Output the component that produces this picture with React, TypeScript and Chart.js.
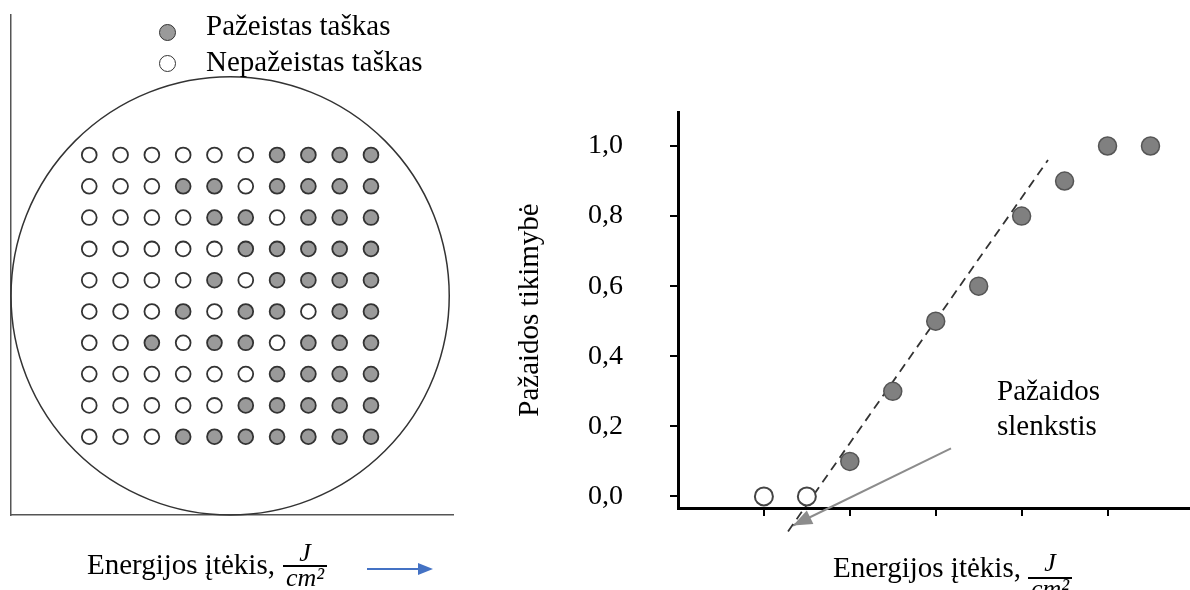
import React, { useEffect, useRef } from "react";
import { Chart, registerables } from "chart.js";

Chart.register(...registerables);

const FONT = "'Liberation Serif', 'Times New Roman', serif";

// ---------- Left panel: 10 x 10 test grid on the sample (1 = damaged) ----------
const gridColumns = [1, 2, 3, 4, 5, 6, 7, 8, 9, 10];
const gridRows = [10, 9, 8, 7, 6, 5, 4, 3, 2, 1]; // y value of each row, top to bottom
const damageGrid = [
  [0, 0, 0, 0, 0, 0, 1, 1, 1, 1],
  [0, 0, 0, 1, 1, 0, 1, 1, 1, 1],
  [0, 0, 0, 0, 1, 1, 0, 1, 1, 1],
  [0, 0, 0, 0, 0, 1, 1, 1, 1, 1],
  [0, 0, 0, 0, 1, 0, 1, 1, 1, 1],
  [0, 0, 0, 1, 0, 1, 1, 0, 1, 1],
  [0, 0, 1, 0, 1, 1, 0, 1, 1, 1],
  [0, 0, 0, 0, 0, 0, 1, 1, 1, 1],
  [0, 0, 0, 0, 0, 1, 1, 1, 1, 1],
  [0, 0, 0, 1, 1, 1, 1, 1, 1, 1],
];
const sampleCenterX = [5.5];
const sampleCenterY = [5.5];
const sampleRadius = 7; // grid units

// ---------- Right panel: damage probability vs. fluence ----------
const energy = [1, 1.5, 2, 2.5, 3, 3.5, 4, 4.5, 5, 5.5];
const probability = [0, 0, 0.1, 0.3, 0.5, 0.6, 0.8, 0.9, 1.0, 1.0];
const trendX = [1.281, 4.307];
const trendY = [-0.1, 0.96];
const arrowX = [3.178, 1.339];
const arrowY = [0.137, -0.083];
const xTickValues = [1, 2, 3, 4, 5];
const yTickValues = [0, 0.2, 0.4, 0.6, 0.8, 1.0];

const arrowHeadPlugin = {
  id: "arrowHead",
  afterDatasetsDraw(chart: any) {
    const ctx = chart.ctx;
    chart.data.datasets.forEach((ds: any, i: number) => {
      if (!ds.arrowHead) return;
      const pts = chart.getDatasetMeta(i).data;
      if (pts.length < 2) return;
      const a = pts[pts.length - 2];
      const b = pts[pts.length - 1];
      const ang = Math.atan2(b.y - a.y, b.x - a.x);
      const L = 19;
      const W = 7.5;
      ctx.save();
      ctx.translate(b.x, b.y);
      ctx.rotate(ang);
      ctx.beginPath();
      ctx.moveTo(0, 0);
      ctx.lineTo(-L, -W);
      ctx.lineTo(-L, W);
      ctx.closePath();
      ctx.fillStyle = ds.borderColor;
      ctx.fill();
      ctx.restore();
    });
  },
};

function Txt(props: {
  x: number;
  base: number;
  size?: number;
  italic?: boolean;
  center?: boolean;
  children: React.ReactNode;
}) {
  const size = props.size ?? 29;
  const style: React.CSSProperties = {
    position: "absolute",
    left: props.x,
    top: props.base - 0.8375 * size,
    fontSize: size,
    lineHeight: 1,
    fontFamily: FONT,
    fontStyle: props.italic ? "italic" : "normal",
    whiteSpace: "nowrap",
    color: "#000",
  };
  if (props.center) style.transform = "translateX(-50%)";
  return <div style={style}>{props.children}</div>;
}

function Fraction(props: { cx: number; numBase: number; barY: number; denBase: number; barW: number }) {
  return (
    <>
      <Txt x={props.cx} base={props.numBase} size={26} italic center>
        J
      </Txt>
      <div
        style={{
          position: "absolute",
          left: props.cx - props.barW / 2,
          top: props.barY - 0.75,
          width: props.barW,
          height: 1.5,
          background: "#000",
        }}
      />
      <Txt x={props.cx} base={props.denBase} size={26} italic center>
        cm²
      </Txt>
    </>
  );
}

export default function App() {
  const leftRef = useRef<HTMLCanvasElement | null>(null);
  const rightRef = useRef<HTMLCanvasElement | null>(null);

  useEffect(() => {
    Chart.defaults.font.family = FONT;
    Chart.defaults.color = "#000";

    const damagedPts: { x: number; y: number }[] = [];
    const intactPts: { x: number; y: number }[] = [];
    damageGrid.forEach((row, r) =>
      row.forEach((v, c) => {
        const p = { x: gridColumns[c], y: gridRows[r] };
        (v ? damagedPts : intactPts).push(p);
      })
    );

    const left = new Chart(leftRef.current!, {
      type: "scatter",
      data: {
        datasets: [
          {
            label: "Pažeistas taškas",
            data: damagedPts,
            pointRadius: 7.4,
            pointBackgroundColor: "#9a9a9a",
            pointBorderColor: "#333",
            pointBorderWidth: 1.8,
            order: 0,
          },
          {
            label: "Nepažeistas taškas",
            data: intactPts,
            pointRadius: 7.4,
            pointBackgroundColor: "#fff",
            pointBorderColor: "#333",
            pointBorderWidth: 1.8,
            order: 0,
          },
          {
            label: "Bandinys",
            data: sampleCenterX.map((x, i) => ({ x, y: sampleCenterY[i] })),
            pointRadius: (ctx: any) => {
              const s = ctx.chart.scales.x;
              const r = Math.abs(s.getPixelForValue(sampleRadius) - s.getPixelForValue(0));
              return isFinite(r) ? r : 0;
            },
            pointBackgroundColor: "rgba(0,0,0,0)",
            pointBorderColor: "#333",
            pointBorderWidth: 1.5,
            clip: false as any,
            order: 2,
          },
        ],
      },
      options: {
        animation: false,
        responsive: false,
        devicePixelRatio: 1,
        events: [],
        layout: { autoPadding: false, padding: { left: 11, top: 15, right: 17, bottom: 75 } },
        plugins: { legend: { display: false }, tooltip: { enabled: false } },
        scales: {
          x: {
            type: "linear",
            min: -1.5,
            max: 12.62,
            ticks: { display: false },
            grid: { display: false },
            border: { display: true, color: "#555", width: 1.5 },
            afterFit: (s: any) => {
              s.height = 0;
            },
          },
          y: {
            type: "linear",
            min: -1.5,
            max: 14.47,
            ticks: { display: false },
            grid: { display: false },
            border: { display: true, color: "#555", width: 1.5 },
            afterFit: (s: any) => {
              s.width = 0;
            },
          },
        },
      },
    });

    const damagedE: { x: number; y: number }[] = [];
    const intactE: { x: number; y: number }[] = [];
    energy.forEach((e, i) => {
      const p = { x: e, y: probability[i] };
      (probability[i] > 0 ? damagedE : intactE).push(p);
    });

    const right = new Chart(rightRef.current!, {
      type: "scatter",
      plugins: [arrowHeadPlugin],
      data: {
        datasets: [
          {
            label: "Pažeistas taškas",
            data: damagedE,
            pointRadius: 9,
            pointBackgroundColor: "#808080",
            pointBorderColor: "#555",
            pointBorderWidth: 1.5,
            order: 0,
          },
          {
            label: "Nepažeistas taškas",
            data: intactE,
            pointRadius: 9,
            pointBackgroundColor: "#fff",
            pointBorderColor: "#444",
            pointBorderWidth: 2,
            order: 0,
          },
          {
            type: "line",
            label: "Tendencija",
            data: trendX.map((x, i) => ({ x, y: trendY[i] })),
            borderColor: "#333",
            borderWidth: 1.8,
            borderDash: [9, 6],
            pointRadius: 0,
            fill: false,
            clip: false as any,
            order: 1,
          } as any,
          {
            type: "line",
            label: "Pažaidos slenkstis",
            data: arrowX.map((x, i) => ({ x, y: arrowY[i] })),
            borderColor: "#8c8c8c",
            borderWidth: 2,
            pointRadius: 0,
            fill: false,
            clip: false as any,
            arrowHead: true,
            order: 1,
          } as any,
        ],
      },
      options: {
        animation: false,
        responsive: false,
        devicePixelRatio: 1,
        events: [],
        layout: { autoPadding: false, padding: { left: 0, top: 112, right: 0, bottom: 0 } },
        plugins: { legend: { display: false }, tooltip: { enabled: false } },
        scales: {
          x: {
            type: "linear",
            min: 0,
            max: 5.96,
            afterBuildTicks: (s: any) => {
              s.ticks = xTickValues.map((value) => ({ value }));
            },
            ticks: { display: false },
            grid: {
              drawOnChartArea: false,
              drawTicks: true,
              tickLength: 8,
              tickColor: "#000",
              tickWidth: 2,
              color: "#000",
              lineWidth: 2,
            },
            border: { display: true, color: "#000", width: 3 },
            afterFit: (s: any) => {
              s.height = 82;
            },
          },
          y: {
            type: "linear",
            min: -0.033,
            max: 1.097,
            afterBuildTicks: (s: any) => {
              s.ticks = yTickValues.map((value) => ({ value }));
            },
            ticks: {
              autoSkip: false,
              padding: 47,
              color: "#000",
              font: { size: 28, family: FONT },
              callback: (v: any) => Number(v).toFixed(1).replace(".", ","),
            },
            grid: {
              drawOnChartArea: false,
              drawTicks: true,
              tickLength: 8,
              tickColor: "#000",
              tickWidth: 2,
              color: "#000",
              lineWidth: 2,
            },
            border: { display: true, color: "#000", width: 3 },
            title: {
              display: true,
              text: "Pažaidos tikimybė",
              color: "#000",
              font: { size: 29, family: FONT },
              padding: { top: 33, bottom: 0 },
            },
            afterFit: (s: any) => {
              s.width = 198;
            },
          },
        },
      },
    });

    return () => {
      left.destroy();
      right.destroy();
    };
  }, []);

  return (
    <div
      style={{
        position: "fixed",
        left: 0,
        top: 0,
        width: 1190,
        height: 590,
        background: "#fff",
        overflow: "hidden",
        fontFamily: FONT,
      }}
    >
      <canvas
        ref={leftRef}
        width={470}
        height={590}
        style={{ position: "absolute", left: 0, top: 0, width: 470, height: 590 }}
      />
      <canvas
        ref={rightRef}
        width={710}
        height={590}
        style={{ position: "absolute", left: 480, top: 0, width: 710, height: 590 }}
      />

      {/* legend */}
      <div
        style={{
          position: "absolute",
          left: 159,
          top: 23.5,
          width: 17,
          height: 17,
          boxSizing: "border-box",
          borderRadius: "50%",
          background: "#9a9a9a",
          border: "1.6px solid #333",
        }}
      />
      <Txt x={206} base={35}>
        Pažeistas taškas
      </Txt>
      <div
        style={{
          position: "absolute",
          left: 159,
          top: 55,
          width: 17,
          height: 17,
          boxSizing: "border-box",
          borderRadius: "50%",
          background: "#fff",
          border: "1.6px solid #333",
        }}
      />
      <Txt x={206} base={71}>
        Nepažeistas taškas
      </Txt>

      {/* left x title */}
      <Txt x={87} base={574}>
        Energijos įtėkis,
      </Txt>
      <Fraction cx={305} numBase={562} barY={566} denBase={587} barW={44} />
      <svg width={80} height={20} style={{ position: "absolute", left: 362, top: 559 }}>
        <line x1={5} y1={10} x2={58} y2={10} stroke="#4472C4" strokeWidth={2} />
        <polygon points="56,4 71,10 56,16" fill="#4472C4" />
      </svg>

      {/* right annotation and x title */}
      <Txt x={997} base={400}>
        Pažaidos
      </Txt>
      <Txt x={997} base={435}>
        slenkstis
      </Txt>
      <Txt x={833} base={577}>
        Energijos įtėkis,
      </Txt>
      <Fraction cx={1050} numBase={572} barY={578} denBase={598} barW={44} />
    </div>
  );
}
